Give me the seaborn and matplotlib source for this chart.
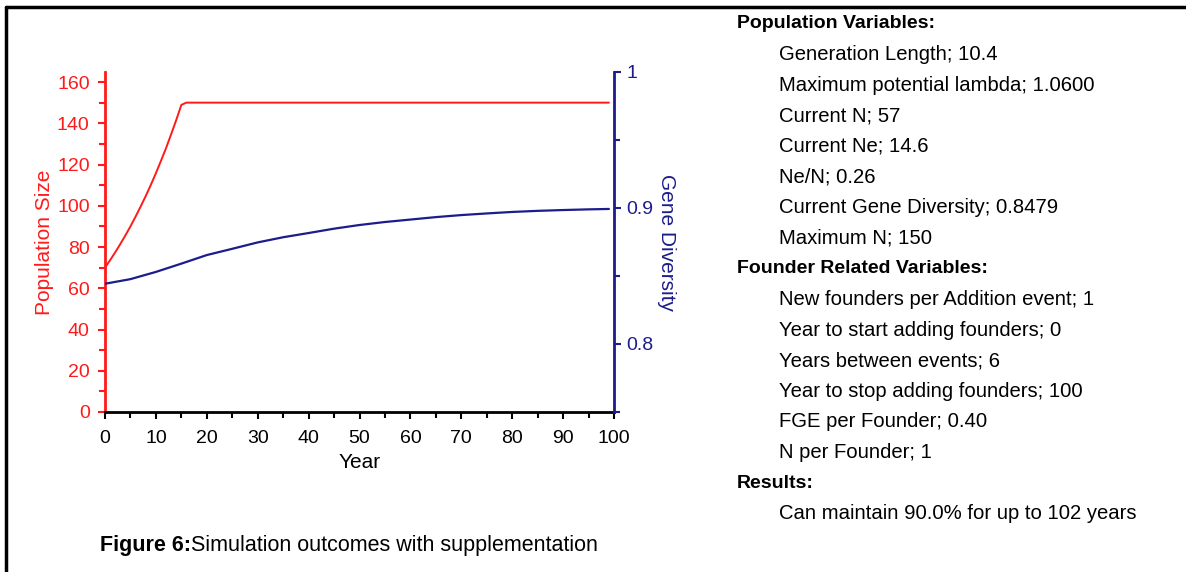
import matplotlib
matplotlib.use('Agg')
import matplotlib.pyplot as plt
import seaborn as sns
from matplotlib.lines import Line2D
from matplotlib.ticker import MultipleLocator

# population size (red) and gene diversity (blue)
pop_years = [0, 1, 2, 3, 4, 5, 6, 7, 8, 9, 10, 11, 12, 13, 14, 15, 16, 99]
pop_size = [70, 73.6, 77.4, 81.4, 85.6, 90.0, 94.7, 99.6, 104.7, 110.1,
            115.8, 121.8, 128.0, 134.7, 141.6, 148.9, 150, 150]

gd_years = [0, 5, 10, 15, 20, 25, 30, 35, 40, 45, 50, 55, 60, 65, 70, 75,
            80, 85, 90, 95, 99]
gene_div = [0.8443, 0.8477, 0.8530, 0.8591, 0.8654, 0.8700, 0.8747, 0.8785,
            0.8816, 0.8848, 0.8875, 0.8897, 0.8915, 0.8933, 0.8948, 0.8960,
            0.8971, 0.8979, 0.8985, 0.8990, 0.8993]

panel = [
    ("Population Variables:", True),
    ("Generation Length; 10.4", False),
    ("Maximum potential lambda; 1.0600", False),
    ("Current N; 57", False),
    ("Current Ne; 14.6", False),
    ("Ne/N; 0.26", False),
    ("Current Gene Diversity; 0.8479", False),
    ("Maximum N; 150", False),
    ("Founder Related Variables:", True),
    ("New founders per Addition event; 1", False),
    ("Year to start adding founders; 0", False),
    ("Years between events; 6", False),
    ("Year to stop adding founders; 100", False),
    ("FGE per Founder; 0.40", False),
    ("N per Founder; 1", False),
    ("Results:", True),
    ("Can maintain 90.0% for up to 102 years", False),
]

RED = '#ff1a1a'
BLUE = '#1c1c8c'

sns.set_theme(style='ticks')
plt.rcParams['font.family'] = ['Liberation Sans', 'DejaVu Sans']
plt.rcParams['text.color'] = 'black'

W, H = 1186, 572
fig = plt.figure(figsize=(W / 100, H / 100), dpi=100)
ax = fig.add_axes([105 / W, 1 - 412 / H, (614 - 105) / W, (412 - 72) / H])
ax2 = ax.twinx()

sns.lineplot(x=pop_years, y=pop_size, ax=ax, color=RED, linewidth=1.4)
sns.lineplot(x=gd_years, y=gene_div, ax=ax2, color=BLUE, linewidth=1.6)

ax.set_xlim(0, 100)
ax.set_ylim(0, 164.85)
ax2.set_ylim(0.75, 1.0)

ax.xaxis.set_major_locator(MultipleLocator(10))
ax.xaxis.set_minor_locator(MultipleLocator(5))
ax.yaxis.set_major_locator(MultipleLocator(20))
ax.yaxis.set_minor_locator(MultipleLocator(10))
ax2.yaxis.set_major_locator(MultipleLocator(0.1))
ax2.yaxis.set_minor_locator(MultipleLocator(0.05))
ax2.yaxis.set_major_formatter(plt.FuncFormatter(lambda v, p: f"{v:g}"))

for a in (ax, ax2):
    a.spines['top'].set_visible(False)
ax.spines['right'].set_visible(False)
ax2.spines['left'].set_visible(False)
ax2.spines['bottom'].set_visible(False)
ax.spines['left'].set_color(RED)
ax.spines['left'].set_linewidth(2)
ax.spines['bottom'].set_color('black')
ax.spines['bottom'].set_linewidth(2)
ax2.spines['right'].set_color(BLUE)
ax2.spines['right'].set_linewidth(2)

ax.tick_params(axis='x', which='both', direction='out', colors='black',
               labelsize=14, width=1.5)
ax.tick_params(axis='x', which='major', length=5, pad=8)
ax.tick_params(axis='x', which='minor', length=4)
ax.tick_params(axis='y', which='both', direction='out', colors=RED,
               labelsize=14, width=1.5)
ax.tick_params(axis='y', which='major', length=5, pad=6)
ax.tick_params(axis='y', which='minor', length=4)
ax2.tick_params(axis='y', which='both', direction='out', colors=BLUE,
                labelsize=14, width=1.5)
ax2.tick_params(axis='y', which='major', length=5, pad=4)
ax2.tick_params(axis='y', which='minor', length=4)

ax.set_xlabel('Year', fontsize=15, color='black', va='center')
ax.xaxis.set_label_coords(0.5, -0.15)
ax.set_ylabel('Population Size', fontsize=15, color=RED, va='center')
ax.yaxis.set_label_coords(-0.118, 0.5)
ax2.set_ylabel('Gene Diversity', fontsize=15, color=BLUE, rotation=-90,
               va='center')
ax2.yaxis.set_label_coords(1.104, 0.5)

# caption
cap = fig.text(100 / W, 1 - 545 / H, 'Figure 6:', fontsize=15.5,
               fontweight='bold', va='center', ha='left')
fig.canvas.draw()
ax.annotate('Simulation outcomes with supplementation', xy=(1, 0.5),
            xycoords=cap, va='center', ha='left', fontsize=15.5,
            annotation_clip=False)

# right-hand information panel
y0, step = 24, 30.6
for i, (txt, bold) in enumerate(panel):
    x = 737 if bold else 779
    fig.text(x / W, 1 - (y0 + i * step) / H, txt,
             fontsize=14 if bold else 14.6,
             fontweight='bold' if bold else 'normal', va='center', ha='left')

# frame lines (top and left)
fig.add_artist(Line2D([6 / W, 1], [1 - 7 / H, 1 - 7 / H], color='black',
                      linewidth=2.5, transform=fig.transFigure))
fig.add_artist(Line2D([6 / W, 6 / W], [0, 1 - 7 / H], color='black',
                      linewidth=2.5, transform=fig.transFigure))

fig.savefig('out.png', dpi=100)
